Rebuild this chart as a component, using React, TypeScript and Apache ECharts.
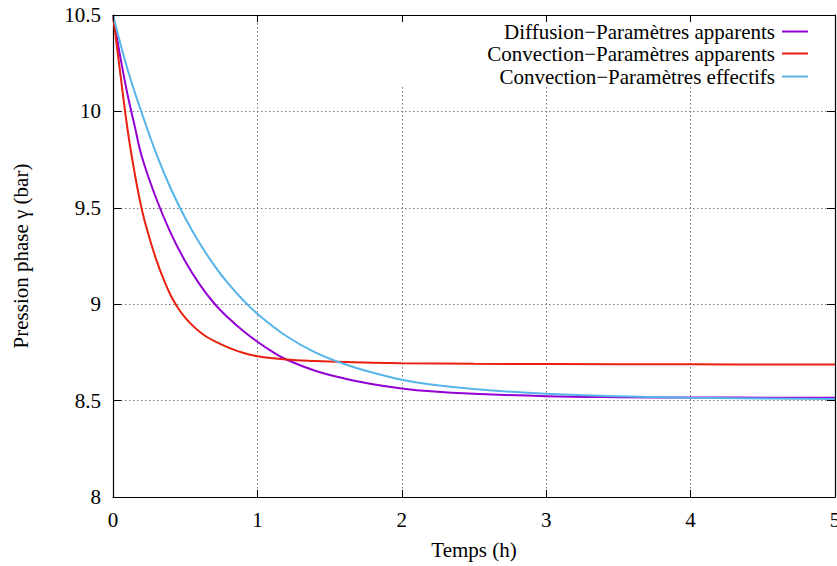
import React, { useEffect, useRef } from "react";
import * as echarts from "echarts";

// Time (h) and pressure (bar)
const tPurple = [0, 0.05, 0.1, 0.15, 0.2, 0.3, 0.4, 0.5, 0.6, 0.7, 0.8, 0.9, 1.0, 1.1, 1.2, 1.4, 1.6, 1.8, 2.0, 2.2, 2.5, 3.0, 3.5, 4.0, 5.0];
const vPurple = [10.5, 10.285, 10.09, 9.925, 9.765, 9.547, 9.369, 9.223, 9.103, 9.005, 8.928, 8.862, 8.805, 8.755, 8.713, 8.655, 8.615, 8.585, 8.563, 8.548, 8.535, 8.523, 8.518, 8.516, 8.515];

const tRed = [0, 0.05, 0.1, 0.15, 0.2, 0.25, 0.3, 0.35, 0.4, 0.45, 0.5, 0.55, 0.6, 0.65, 0.7, 0.8, 0.9, 1.0, 1.2, 1.4, 1.6, 2.0, 2.5, 3.0, 4.0, 5.0];
const vRed = [10.5, 10.2, 9.91, 9.68, 9.49, 9.35, 9.23, 9.13, 9.045, 8.98, 8.93, 8.89, 8.857, 8.83, 8.81, 8.775, 8.748, 8.73, 8.713, 8.705, 8.7, 8.694, 8.691, 8.69, 8.688, 8.687];

const tBlue = [0, 0.1, 0.2, 0.3, 0.4, 0.5, 0.6, 0.7, 0.8, 0.9, 1.0, 1.2, 1.4, 1.6, 1.8, 2.0, 2.2, 2.5, 3.0, 3.5, 4.0, 5.0];
const vBlue = [10.5, 10.22, 9.99, 9.78, 9.6, 9.447, 9.316, 9.203, 9.105, 9.022, 8.95, 8.835, 8.75, 8.69, 8.645, 8.608, 8.583, 8.56, 8.535, 8.523, 8.515, 8.508];

const seriesNames = [
  "Diffusion\u2212Paramètres apparents",
  "Convection\u2212Paramètres apparents",
  "Convection\u2212Paramètres effectifs",
];
const seriesColors = ["#9400d3", "#e8200f", "#56b4e9"];

const xTitle = "Temps (h)";
const yTitle = "Pression phase γ (bar)";

const FONT = "Liberation Serif";

function zip(t: number[], v: number[]) {
  return t.map((x, i) => [x, v[i]]);
}

export default function App() {
  const ref = useRef<HTMLDivElement>(null);
  useEffect(() => {
    if (!ref.current) return;
    const chart = echarts.init(ref.current, undefined, { renderer: "svg" });
    const gridLine = { show: true, lineStyle: { color: "#777", width: 1, type: [1.5, 2.5] as any } };
    const dataSets = [zip(tPurple, vPurple), zip(tRed, vRed), zip(tBlue, vBlue)];
    const legendTops = [21, 43, 66];
    chart.setOption({
      animation: false,
      backgroundColor: "#fff",
      textStyle: { fontFamily: FONT },
      grid: { left: 113, top: 15, right: 2, bottom: 69, containLabel: false, outerBoundsMode: "none" },
      legend: seriesNames.map((n, i) => ({
        data: [{ name: n, icon: "rect" }],
        orient: "vertical",
        align: "right",
        right: 29,
        top: legendTops[i],
        padding: 0,
        itemWidth: 26,
        itemHeight: 2,
        itemGap: 0,
        textStyle: { fontFamily: FONT, fontSize: 21, color: "#000", padding: [0, 2, 0, 0] },
        z: 6,
      })),
      xAxis: [
        {
          type: "value",
          min: 0,
          max: 5,
          interval: 1,
          position: "bottom",
          name: xTitle,
          nameLocation: "middle",
          nameGap: 42,
          nameTextStyle: { fontFamily: FONT, fontSize: 21, color: "#000" },
          axisLine: { show: true, onZero: false, lineStyle: { color: "#000", width: 1.2 } },
          axisTick: { show: true, inside: true, length: 7, lineStyle: { color: "#000" } },
          axisLabel: { fontFamily: FONT, fontSize: 21, color: "#000", margin: 12 },
          splitLine: gridLine,
        },
        {
          type: "value",
          min: 0,
          max: 5,
          interval: 1,
          position: "top",
          z: 5,
          axisLine: { show: true, onZero: false, lineStyle: { color: "#000", width: 1.2 } },
          axisTick: { show: true, inside: true, length: 7, lineStyle: { color: "#000" } },
          axisLabel: { show: false },
          splitLine: { show: false },
        },
      ],
      yAxis: [
        {
          type: "value",
          min: 8,
          max: 10.5,
          interval: 0.5,
          position: "left",
          name: yTitle,
          nameLocation: "middle",
          nameGap: 82,
          nameTextStyle: { fontFamily: FONT, fontSize: 21, color: "#000" },
          axisLine: { show: true, onZero: false, lineStyle: { color: "#000", width: 1.2 } },
          axisTick: { show: true, inside: true, length: 8, lineStyle: { color: "#000" } },
          axisLabel: { fontFamily: FONT, fontSize: 21, color: "#000", margin: 12 },
          splitLine: gridLine,
        },
        {
          type: "value",
          min: 8,
          max: 10.5,
          interval: 0.5,
          position: "right",
          z: 5,
          axisLine: { show: true, onZero: false, lineStyle: { color: "#000", width: 1.2 } },
          axisTick: { show: true, inside: true, length: 8, lineStyle: { color: "#000" } },
          axisLabel: { show: false },
          splitLine: { show: false },
        },
      ],
      graphic: [
        {
          type: "rect",
          z: 1,
          shape: { x: 396, y: 16, width: 438, height: 71 },
          style: { fill: "#fff" },
          silent: true,
        },
      ],
      series: dataSets.map((d, i) => ({
        name: seriesNames[i],
        type: "line",
        xAxisIndex: 0,
        yAxisIndex: 0,
        data: d,
        smooth: 0.4,
        symbol: "none",
        showSymbol: false,
        color: seriesColors[i],
        lineStyle: { color: seriesColors[i], width: 2 },
        z: 3,
      })),
    });
    return () => chart.dispose();
  }, []);
  return (
    <div
      ref={ref}
      style={{ position: "absolute", left: 0, top: 0, width: 837, height: 566, background: "#fff" }}
    />
  );
}
